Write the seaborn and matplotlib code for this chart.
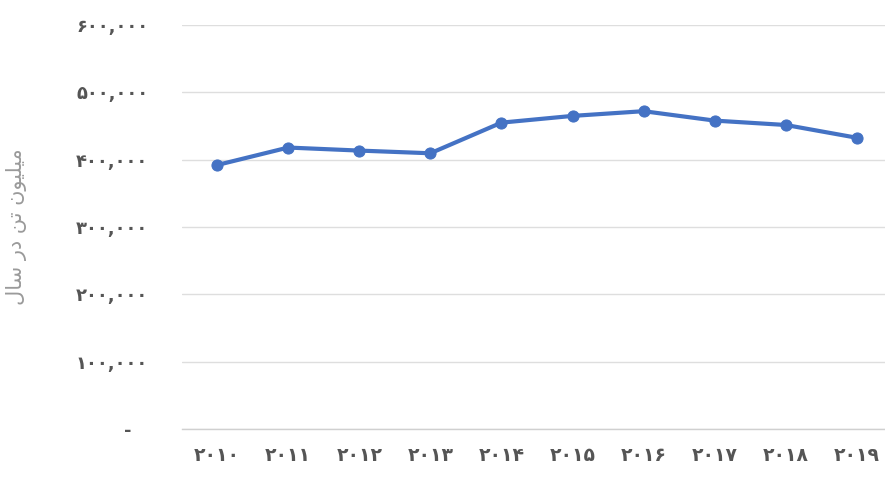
import matplotlib
matplotlib.use("Agg")
import matplotlib.pyplot as plt
import numpy as np
import pandas as pd
import seaborn as sns
from matplotlib.transforms import ScaledTranslation

# ---- data ----
years = ["۲۰۱۰", "۲۰۱۱", "۲۰۱۲", "۲۰۱۳", "۲۰۱۴", "۲۰۱۵", "۲۰۱۶", "۲۰۱۷", "۲۰۱۸", "۲۰۱۹"]
values = [392000, 418000, 413500, 409500, 455000, 465000, 472000, 458000, 451500, 432500]
y_ticks = [0, 100000, 200000, 300000, 400000, 500000, 600000]
y_tick_labels = ["-", "۱۰۰,۰۰۰", "۲۰۰,۰۰۰", "۳۰۰,۰۰۰", "۴۰۰,۰۰۰", "۵۰۰,۰۰۰", "۶۰۰,۰۰۰"]
y_title = "میلیون تن در سال"


# ---- minimal Persian shaping (matplotlib has no bidi / shaping) ----
FORMS = {
    "م": ("\uFEE1", "\uFEE2", "\uFEE3", "\uFEE4"),
    "ی": ("\uFEEF", "\uFEF0", "\uFEF3", "\uFEF4"),
    "ل": ("\uFEDD", "\uFEDE", "\uFEDF", "\uFEE0"),
    "و": ("\uFEED", "\uFEEE"),
    "ن": ("\uFEE5", "\uFEE6", "\uFEE7", "\uFEE8"),
    "ت": ("\uFE95", "\uFE96", "\uFE97", "\uFE98"),
    "د": ("\uFEA9", "\uFEAA"),
    "ر": ("\uFEAD", "\uFEAE"),
    "س": ("\uFEB1", "\uFEB2", "\uFEB3", "\uFEB4"),
    "ا": ("\uFE8D", "\uFE8E"),
}


def shape(text):
    out = []
    n = len(text)
    for i, ch in enumerate(text):
        if ch not in FORMS:
            out.append(ch)
            continue
        f = FORMS[ch]
        prev = text[i - 1] if i > 0 else None
        nxt = text[i + 1] if i < n - 1 else None
        jp = prev in FORMS and len(FORMS[prev]) == 4
        jn = len(f) == 4 and nxt in FORMS
        if jp and jn:
            out.append(f[3])
        elif jp:
            out.append(f[1])
        elif jn:
            out.append(f[2])
        else:
            out.append(f[0])
    return "".join(out)[::-1]


sns.set_theme(style="white")
plt.rcParams["font.family"] = ["DejaVu Sans"]

W, H = 885, 479
fig = plt.figure(figsize=(W / 100, H / 100), dpi=100)
ax = fig.add_axes([181.5 / W, 50 / H, 711 / W, 404 / H])

df = pd.DataFrame({"year": years, "value": values})
sns.lineplot(data=df, x="year", y="value", ax=ax, color="#4472C4",
             linewidth=3, marker="o", markersize=8,
             markeredgecolor="#4472C4", markerfacecolor="#4472C4", zorder=3)

ax.set_xlim(-0.5, len(years) - 0.5)
ax.set_ylim(0, 600000)
ax.set_yticks(y_ticks)
ax.set_yticklabels(y_tick_labels)
ax.set_xticks(range(len(years)))
ax.set_xticklabels(years)

for s in ["top", "right", "left"]:
    ax.spines[s].set_visible(False)
ax.spines["bottom"].set_color("#d0d0d0")
ax.spines["bottom"].set_linewidth(1)

ax.yaxis.grid(True, color="#dedede", linewidth=1)
ax.xaxis.grid(False)
ax.set_axisbelow(True)

ax.tick_params(axis="y", length=0, pad=24, labelsize=13, labelcolor="#555555")
ax.tick_params(axis="x", length=0, pad=12, labelsize=13.5, labelcolor="#555555")
for lab in ax.get_yticklabels() + ax.get_xticklabels():
    lab.set_fontweight("bold")

# dash for zero sits a bit further left (accounting format)
zl = ax.get_yticklabels()[0]
zl.set_transform(zl.get_transform() + ScaledTranslation(-0.17, 0, fig.dpi_scale_trans))

ax.set_xlabel("")
ax.set_ylabel(shape(y_title), fontsize=15, color="#9a9a9a")
ax.yaxis.set_label_coords((27 - 181.5) / 711, 0.5)

fig.savefig("out.png", dpi=100)
